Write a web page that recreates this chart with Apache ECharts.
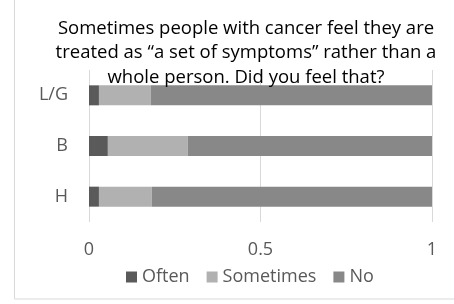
<!DOCTYPE html>
<html>
<head>
<meta charset="utf-8">
<script src="https://cdn.jsdelivr.net/npm/echarts@6/dist/echarts.min.js"></script>
<style>
  html, body { margin: 0; padding: 0; background: #fff; }
  #chart { width: 454px; height: 304px; }
</style>
</head>
<body>
<div id="chart"></div>
<script>
// categories, top to bottom
var categories = ['L/G', 'B', 'H'];
// share of answers per group
var often = [0.029, 0.055, 0.029];
var sometimes = [0.151, 0.233, 0.154];
var no = [0.820, 0.712, 0.817];
var xTicks = [0, 0.5, 1];

var FONT = 'Open Sans';
var chart = echarts.init(document.getElementById('chart'));

chart.setOption({
  backgroundColor: '#fff',
  animation: false,
  title: {
    text: 'Sometimes people with cancer feel they are\ntreated as \u201ca set of symptoms\u201d rather than a\nwhole person. Did you feel that?',
    left: 241,
    top: 11,
    textAlign: 'center',
    textStyle: {
      color: '#000',
      fontFamily: FONT,
      fontSize: 18.5,
      fontWeight: 'normal',
      lineHeight: 24.5
    }
  },
  graphic: [{
    type: 'rect',
    shape: { x: 14.5, y: -5, width: 500, height: 304 },
    style: { fill: 'none', stroke: '#d9d9d9', lineWidth: 1 },
    silent: true
  }],
  grid: {
    left: 89,
    right: 22,
    top: 70,
    bottom: 82
  },
  legend: {
    data: ['Often', 'Sometimes', 'No'],
    left: 121,
    top: 263,
    icon: 'rect',
    itemWidth: 11,
    itemHeight: 11,
    itemGap: 17,
    textStyle: {
      color: '#595959',
      fontFamily: FONT,
      fontSize: 18
    }
  },
  xAxis: {
    type: 'value',
    min: xTicks[0],
    max: xTicks[xTicks.length - 1],
    interval: 0.5,
    axisLine: { show: false },
    axisTick: { show: false },
    splitLine: {
      show: true,
      lineStyle: { color: '#d9d9d9', width: 1 }
    },
    axisLabel: {
      color: '#595959',
      fontFamily: FONT,
      fontSize: 18,
      margin: 19
    }
  },
  yAxis: {
    type: 'category',
    inverse: true,
    data: categories,
    axisLine: { show: false },
    axisTick: { show: false },
    axisLabel: {
      color: '#595959',
      fontFamily: FONT,
      fontSize: 18,
      margin: 21
    }
  },
  series: [
    {
      name: 'Often',
      type: 'bar',
      stack: 'total',
      barWidth: 20,
      data: often,
      itemStyle: { color: '#5a5a5a' }
    },
    {
      name: 'Sometimes',
      type: 'bar',
      stack: 'total',
      barWidth: 20,
      data: sometimes,
      itemStyle: { color: '#b1b1b1' }
    },
    {
      name: 'No',
      type: 'bar',
      stack: 'total',
      barWidth: 20,
      data: no,
      itemStyle: { color: '#888888' }
    }
  ]
});
</script>
</body>
</html>
